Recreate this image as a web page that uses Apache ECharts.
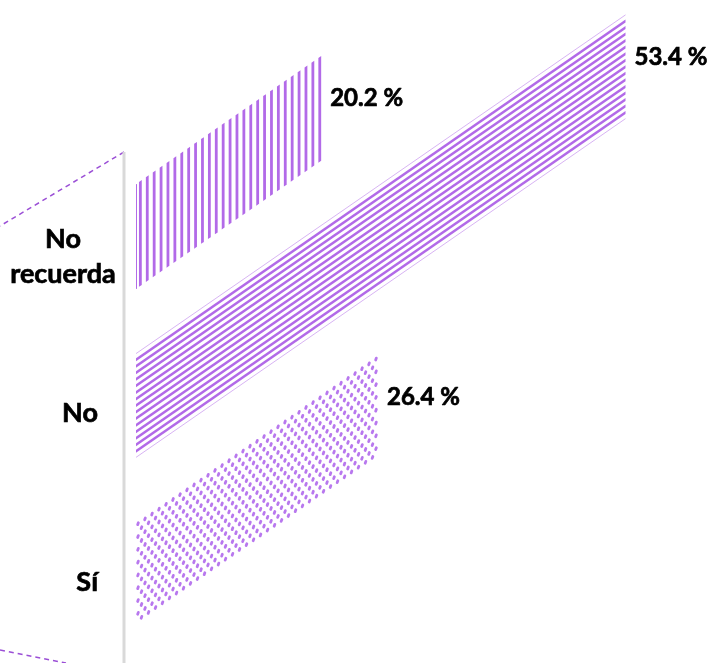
<!DOCTYPE html>
<html>
<head>
<meta charset="utf-8">
<script src="https://cdn.jsdelivr.net/npm/echarts@6/dist/echarts.min.js"></script>
<style>
html,body{margin:0;padding:0;background:#fff;}
#chart{width:714px;height:663px;}
</style>
</head>
<body>
<div id="chart"></div>
<script>
// ---- data ----
var categories = ['Sí', 'No', 'No recuerda'];
var categoryLabels = ['Sí', 'No', 'No\nrecuerda'];
var values = [26.4, 53.4, 20.2];
var patterns = ['dots', 'hstripe', 'vstripe'];

// ---- style ----
var SLOPE = 0.692;
var PURPLE = '#B26AE8';
var DOT = '#B878EE';
var EDGE = '#D8B4F4';
var FONT = 'Lato';

var seriesData = values.map(function (v, i) { return [v, categories[i]]; });

function renderItem(params, api) {
  var val = api.value(0);
  var cat = api.value(1);
  var p0 = api.coord([0, cat]);
  var p1 = api.coord([val, cat]);
  var band = api.size([0, 1])[1];
  var h = band * 0.62;
  var x0 = p0[0], x1 = p1[0], cy = p0[1];
  var w = x1 - x0;
  var rise = SLOPE * w;
  var top0 = cy - h / 2, bot0 = cy + h / 2;
  function topAt(x) { return top0 - SLOPE * (x - x0); }
  function botAt(x) { return bot0 - SLOPE * (x - x0); }
  var kids = [];
  var pat = patterns[params.dataIndex];
  if (pat === 'hstripe') {
    var n = 16, per = h / n, t = 3.0;
    kids.push({type: 'line', shape: {x1: x0, y1: top0 + 0.5, x2: x1, y2: top0 - rise + 0.5}, style: {stroke: EDGE, lineWidth: 1}});
    for (var i = 1; i < n; i++) {
      var a = top0 + i * per - t / 2;
      kids.push({type: 'polygon', shape: {points: [[x0, a], [x1, a - rise], [x1, a - rise + t], [x0, a + t]]}, style: {fill: PURPLE}});
    }
    kids.push({type: 'line', shape: {x1: x0, y1: bot0 - 0.5, x2: x1, y2: bot0 - rise - 0.5}, style: {stroke: EDGE, lineWidth: 1}});
  } else if (pat === 'vstripe') {
    var perV = 6.9, tv = 2.8;
    kids.push({type: 'line', shape: {x1: x0 + 0.5, y1: topAt(x0), x2: x0 + 0.5, y2: botAt(x0)}, style: {stroke: PURPLE, lineWidth: 1}});
    for (var xs = x1 - tv; xs > x0 + 2; xs -= perV) {
      var xe = xs + tv;
      kids.push({type: 'polygon', shape: {points: [[xs, topAt(xs)], [xe, topAt(xe)], [xe, botAt(xe)], [xs, botAt(xs)]]}, style: {fill: PURPLE}});
    }
  } else {
    var dx = 7.0, dy = 6.4, row = 0;
    for (var v = 3; v < h - 2; v += dy, row++) {
      var off = (row % 2) ? dx / 2 : 0;
      for (var u = 2 + off; u < w - 1; u += dx) {
        var px = x0 + u, py = top0 + v - SLOPE * u;
        kids.push({type: 'rect', x: px, y: py, rotation: -0.35,
          shape: {x: -1.4, y: -2.4, width: 2.8, height: 4.8, r: 1.4},
          style: {fill: DOT}});
      }
    }
  }
  // value label
  kids.push({type: 'text', x: x1 + 9, y: cy - rise - 10,
    style: {text: val.toFixed(1) + ' %', font: 'bold 24px ' + FONT, fill: '#000',
      stroke: '#000', lineWidth: 0.7, align: 'left', verticalAlign: 'middle'}});
  // category label
  var lbl = categoryLabels[params.dataIndex];
  var multi = lbl.indexOf('\n') >= 0;
  kids.push({type: 'text', x: multi ? x0 - 73 : x0 - 38, y: cy + (multi ? 20 : 8),
    style: {text: lbl, font: 'bold 27px ' + FONT, lineHeight: 35, fill: '#000',
      stroke: '#000', lineWidth: 0.7, align: multi ? 'center' : 'right', verticalAlign: 'middle'}});
  return {type: 'group', children: kids};
}

var chart = echarts.init(document.getElementById('chart'), null, {renderer: 'canvas'});
chart.setOption({
  animation: false,
  backgroundColor: '#fff',
  grid: {left: 136, right: 28, top: 152, bottom: 4, containLabel: false, outerBoundsMode: 'none'},
  xAxis: {type: 'value', min: 0, max: 60, show: false},
  yAxis: {
    type: 'category', data: categories,
    axisLine: {show: false},
    axisTick: {show: false},
    splitLine: {show: false},
    axisLabel: {show: false}
  },
  graphic: [
    {type: 'line', shape: {x1: 124, y1: 152, x2: 0, y2: 226}, style: {stroke: '#9B4FD6', lineWidth: 1.5, lineDash: [5, 4]}},
    {type: 'line', shape: {x1: 0, y1: 650, x2: 66, y2: 663}, style: {stroke: '#9B4FD6', lineWidth: 1.5, lineDash: [5, 4]}},
    {type: 'line', shape: {x1: 124, y1: 152, x2: 124, y2: 663}, style: {stroke: '#D9D9D9', lineWidth: 3}}
  ],
  series: [{
    type: 'custom',
    renderItem: renderItem,
    encode: {x: 0, y: 1},
    data: seriesData,
    clip: false
  }]
});
</script>
</body>
</html>
